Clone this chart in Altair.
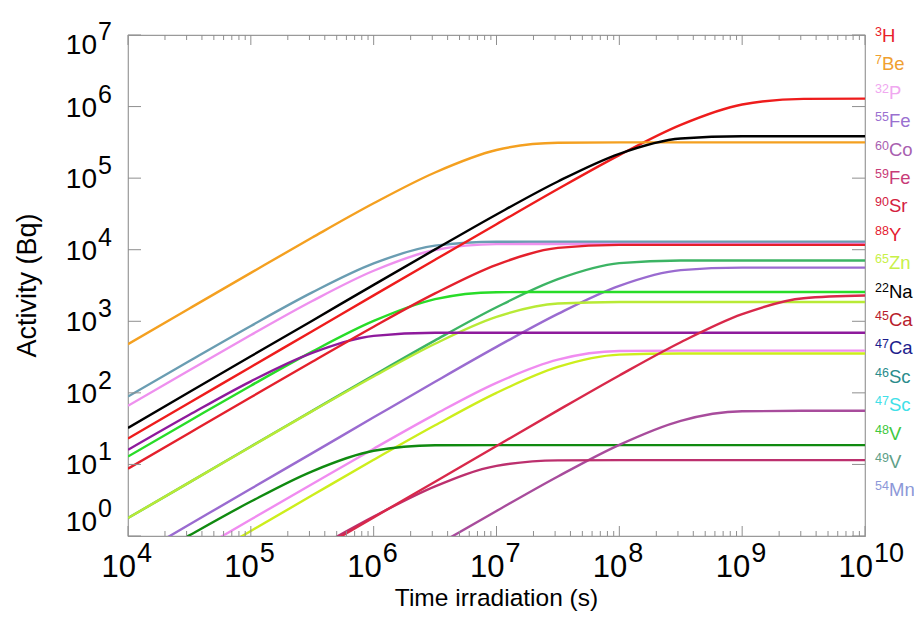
import altair as alt
import pandas as pd

# ---------------- data ----------------
times = [1e4, 3.162e4, 1e5, 3.162e5, 1e6, 3.162e6, 1e7, 3.162e7, 1e8, 3.162e8, 1e9, 3.162e9, 1e10]

act_7be = [478, 1510, 4750, 14800, 44500, 120000, 247000, 313000, 316000, 316000, 316000, 316000, 316000]
act_3h = [23.0, 72.6, 230, 726, 2300, 7240, 22700, 70600, 210000, 555000, 1.07e6, 1.28e6, 1.29e6]
act_22na = [32.4, 103, 324, 1020, 3230, 10100, 31100, 89900, 219000, 358000, 385000, 385000, 385000]
act_teal = [88.9, 279, 861, 2530, 6430, 11400, 12900, 12900, 12900, 12900, 12900, 12900, 12900]
act_32p = [65.9, 207, 643, 1920, 5080, 9910, 11970, 12000, 12000, 12000, 12000, 12000, 12000]
act_88y = [8.71, 27.5, 86.7, 272, 840, 2450, 6150, 10600, 11700, 11700, 11700, 11700, 11700]
act_47sc = [16.0, 49.4, 145, 362, 625, 692, 692, 692, 692, 692, 692, 692, 692]
act_48v = [12.9, 40.5, 126, 377, 1010, 2040, 2550, 2570, 2570, 2570, 2570, 2570, 2570]
act_54mn = [1.78, 5.62, 17.8, 56.0, 176, 541, 1570, 3880, 6500, 7080, 7080, 7080, 7080]
act_46sc = [1.78, 5.62, 17.7, 55.5, 169, 485, 1150, 1770, 1860, 1860, 1860, 1860, 1860]
act_55fe = [0.457, 1.445, 4.57, 14.4, 45.5, 143, 439, 1270, 3130, 5190, 5620, 5620, 5620]
act_45ca = [0.170, 0.537, 1.70, 5.33, 16.6, 50.1, 138, 291, 384, 389, 389, 389, 389]
act_65zn = [0.1175, 0.3715, 1.175, 3.70, 11.6, 35.2, 100, 230, 342, 355, 355, 355, 355]
act_47ca = [0.328, 1.02, 3.03, 8.02, 15.5, 18.5, 18.6, 18.6, 18.6, 18.6, 18.6, 18.6, 18.6]
act_90sr = [0.0182, 0.0575, 0.182, 0.575, 1.82, 5.74, 18.1, 56.9, 175, 509, 1256, 2100, 2290]
act_59fe = [0.0204, 0.0646, 0.202, 0.628, 1.87, 4.94, 9.55, 11.4, 11.5, 11.5, 11.5, 11.5, 11.5]
act_60co = [0.00229, 0.00724, 0.0229, 0.0724, 0.229, 0.719, 2.24, 6.79, 18.8, 40.7, 55.3, 56.2, 56.2]

line_names = ["46Sc", "32P", "45Ca", "65Zn", "55Fe", "54Mn", "46Sc-b", "48V", "47Sc",
              "47Ca", "60Co", "59Fe", "90Sr", "88Y", "3H", "7Be", "22Na"]
line_values = [act_teal, act_32p, act_45ca, act_65zn, act_55fe, act_54mn, act_46sc, act_48v, act_47sc,
               act_47ca, act_60co, act_59fe, act_90sr, act_88y, act_3h, act_7be, act_22na]
line_colors = ["#6a9db2", "#ee90ee", "#f08cf0", "#cdee1c", "#9a6bd0", "#3cb464", "#b8ea36", "#28dc28", "#8e1a9c",
               "#108a10", "#a84c9c", "#bc306e", "#d8284a", "#e4202c", "#ee1c1c", "#f4a020", "#000000"]

x_major = [1e4, 1e5, 1e6, 1e7, 1e8, 1e9, 1e10]
x_exps = ["4", "5", "6", "7", "8", "9", "10"]
x_minor = [k * 10.0 ** n for n in range(4, 10) for k in range(2, 10)]
y_major = [1, 10, 100, 1e3, 1e4, 1e5, 1e6, 1e7]
y_exps = ["0", "1", "2", "3", "4", "5", "6", "7"]

legend_mass = ["3", "7", "32", "55", "60", "59", "90", "88", "65", "22", "45", "47", "46", "47", "48", "49", "54"]
legend_sym = ["H", "Be", "P", "Fe", "Co", "Fe", "Sr", "Y", "Zn", "Na", "Ca", "Ca", "Sc", "Sc", "V", "V", "Mn"]
legend_colors = ["#e8202a", "#f0a030", "#f0a8f0", "#9a70d0", "#a860b0", "#c83c78", "#d42040", "#e42030",
                 "#c8f048", "#000000", "#b81c2c", "#1c1c8c", "#2a8c8c", "#40e0e8", "#40c840", "#60a088", "#8c98d8"]

# ---------------- tables ----------------
rows = []
for name, vals, col in zip(line_names, line_values, line_colors):
    for t, a in zip(times, vals):
        rows.append({"series": name, "color": col, "time": t, "activity": a})
df_lines = pd.DataFrame(rows)
df_xt = pd.DataFrame({"t": x_major, "exp": x_exps})
df_xm = pd.DataFrame({"t": x_minor})
df_yt = pd.DataFrame({"v": y_major, "exp": y_exps})
df_leg = pd.DataFrame({"rank": list(range(len(legend_sym))), "mass": legend_mass,
                       "sym": legend_sym, "color": legend_colors})

W, H = 737, 501
FONT = "Liberation Sans"
TICK = "#8f8f8f"
xs = alt.Scale(type="log", domain=[1e4, 1e10], nice=False)
ys = alt.Scale(type="log", domain=[1, 1e7], nice=False)
X = alt.X("t:Q", scale=xs, axis=None)
Y = alt.Y("v:Q", scale=ys, axis=None)

lines = alt.Chart(df_lines).mark_line(strokeWidth=2.4, interpolate="monotone", clip=True).encode(
    x=alt.X("time:Q", scale=xs, axis=None),
    y=alt.Y("activity:Q", scale=ys, axis=None),
    color=alt.Color("color:N", scale=None),
    detail="series:N",
)

rule = dict(color=TICK, strokeWidth=1)
xmaj_b = alt.Chart(df_xt).mark_rule(**rule).encode(x=X, y=alt.value(H), y2=alt.value(H - 10))
xmaj_t = alt.Chart(df_xt).mark_rule(**rule).encode(x=X, y=alt.value(0), y2=alt.value(10))
xmin_b = alt.Chart(df_xm).mark_rule(**rule).encode(x=X, y=alt.value(H), y2=alt.value(H - 5))
xmin_t = alt.Chart(df_xm).mark_rule(**rule).encode(x=X, y=alt.value(0), y2=alt.value(5))
ymaj_l = alt.Chart(df_yt).mark_rule(**rule).encode(y=Y, x=alt.value(0), x2=alt.value(13))
ymaj_r = alt.Chart(df_yt).mark_rule(**rule).encode(y=Y, x=alt.value(W), x2=alt.value(W - 13))

txt = dict(font=FONT, color="black", baseline="alphabetic")
xlab_base = alt.Chart(df_xt).mark_text(align="right", fontSize=31, dx=8, **txt).encode(
    x=X, y=alt.value(H + 41), text=alt.value("10"))
xlab_exp = alt.Chart(df_xt).mark_text(align="left", fontSize=27, dx=9, **txt).encode(
    x=X, y=alt.value(H + 26), text="exp:N")

def ylabels(filt, dy_base, dy_exp):
    base = alt.Chart(df_yt).transform_filter(filt).mark_text(
        align="right", fontSize=28, dx=-31, dy=dy_base, **txt).encode(
        x=alt.value(0), y=Y, text=alt.value("10"))
    exp = alt.Chart(df_yt).transform_filter(filt).mark_text(
        align="left", fontSize=25, dx=-30, dy=dy_exp, **txt).encode(
        x=alt.value(0), y=Y, text="exp:N")
    return [base, exp]

ylab = (ylabels("datum.exp != '0' && datum.exp != '7'", 10, -4)
        + ylabels("datum.exp == '7'", 18.5, 4.5)
        + ylabels("datum.exp == '0'", -5, -19))

title_df = pd.DataFrame({"xt": ["Time irradiation (s)"], "yt": ["Activity (Bq)"]})
x_title = alt.Chart(title_df).mark_text(align="center", fontSize=24.5, **txt).encode(
    x=alt.value(W / 2), y=alt.value(H + 69.8), text="xt:N")
y_title = alt.Chart(title_df).mark_text(align="center", fontSize=27, angle=270, **txt).encode(
    x=alt.value(-92), y=alt.value(H / 2), text="yt:N")

leg_y = alt.Y("rank:Q", scale=alt.Scale(domain=[0, 16], range=[0, 16 * 28.4]), axis=None)
leg_sup = alt.Chart(df_leg).mark_text(align="left", fontSize=12.5, dy=1, font=FONT, baseline="alphabetic").encode(
    x=alt.value(W + 10), y=leg_y, text="mass:N", color=alt.Color("color:N", scale=None))
leg_sym1 = alt.Chart(df_leg).transform_filter("length(datum.mass) == 1").mark_text(
    align="left", fontSize=18.5, dy=7, font=FONT, baseline="alphabetic").encode(
    x=alt.value(W + 10 + 7), y=leg_y, text="sym:N", color=alt.Color("color:N", scale=None))
leg_sym2 = alt.Chart(df_leg).transform_filter("length(datum.mass) == 2").mark_text(
    align="left", fontSize=18.5, dy=7, font=FONT, baseline="alphabetic").encode(
    x=alt.value(W + 10 + 14), y=leg_y, text="sym:N", color=alt.Color("color:N", scale=None))

layers = [lines, xmaj_b, xmaj_t, xmin_b, xmin_t, ymaj_l, ymaj_r, xlab_base, xlab_exp] + ylab + \
         [x_title, y_title, leg_sup, leg_sym1, leg_sym2]

chart = alt.layer(*layers).resolve_scale(y="independent").properties(
    width=W, height=H,
    autosize=alt.AutoSizeParams(type="none"),
    padding={"left": 120, "top": 27, "right": 49, "bottom": 75},
    background="white",
).configure_view(stroke="#9a9a9a", strokeWidth=1.2)

chart.save("out.html", embed_options={"renderer": "svg", "actions": False})
